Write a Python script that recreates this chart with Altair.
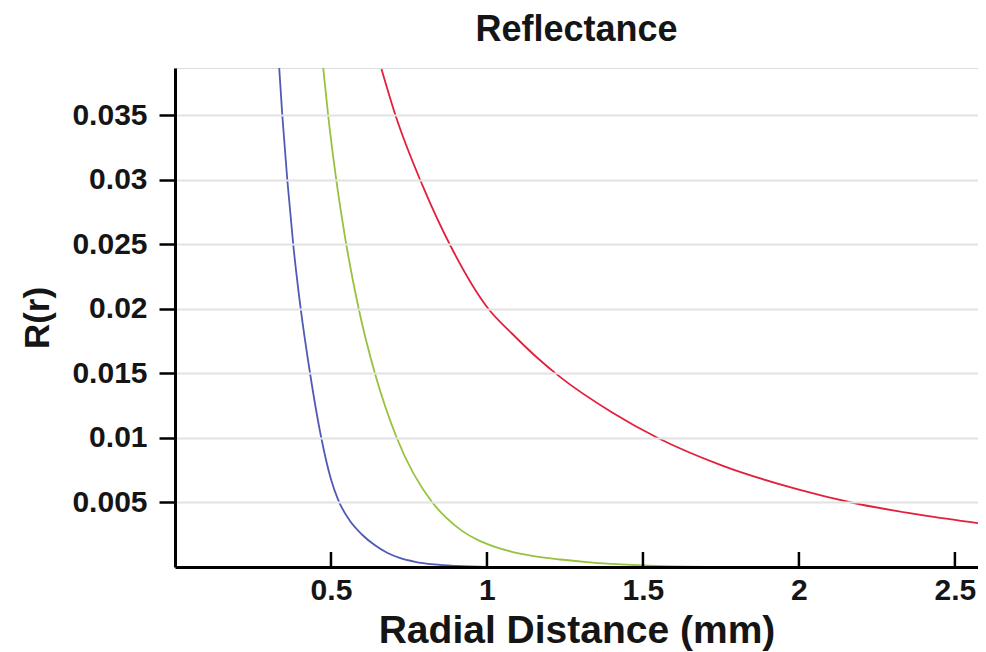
import altair as alt
import pandas as pd

# ---- data ----
series_names = ["blue", "green", "red"]
series_colors = ["#4f5bb5", "#97c23e", "#e3203c"]
series_widths = [1.8, 1.8, 2.6]

blue_x = [0.334, 0.344, 0.360, 0.379, 0.403, 0.433, 0.469, 0.50, 0.523, 0.56, 0.60, 0.64, 0.68, 0.72, 0.77, 0.83, 0.90, 1.0]
blue_y = [0.0387, 0.035, 0.030, 0.025, 0.020, 0.015, 0.010, 0.0068, 0.0052, 0.0036, 0.0025, 0.0017, 0.0011, 0.0007, 0.0004, 0.0002, 0.00008, 0.0]

green_x = [0.475, 0.491, 0.517, 0.549, 0.589, 0.641, 0.711, 0.825, 0.87, 0.92, 0.97, 1.021, 1.08, 1.15, 1.236, 1.32, 1.40, 1.50, 1.60, 1.70]
green_y = [0.0387, 0.035, 0.030, 0.025, 0.020, 0.015, 0.010, 0.005, 0.0038, 0.0028, 0.0021, 0.0016, 0.00118, 0.00085, 0.00058, 0.00038, 0.00024, 0.00012, 0.00005, 0.00001]

red_x = [0.662, 0.707, 0.793, 0.883, 1.005, 1.08, 1.162, 1.236, 1.40, 1.548, 1.75, 2.0, 2.168, 2.4, 2.574]
red_y = [0.0386, 0.035, 0.0296, 0.0249, 0.020, 0.0181, 0.0162, 0.0147, 0.0120, 0.010, 0.0079, 0.0060, 0.0050, 0.0040, 0.0034]

x_ticks = [0.5, 1, 1.5, 2, 2.5]
y_ticks = [0.005, 0.01, 0.015, 0.02, 0.025, 0.03, 0.035]

rows = []
for name, xs, ys in [("blue", blue_x, blue_y), ("green", green_x, green_y), ("red", red_x, red_y)]:
    for i, (xv, yv) in enumerate(zip(xs, ys)):
        rows.append({"series": name, "r": xv, "R": yv, "i": i})
df = pd.DataFrame(rows)
tick_df = pd.DataFrame({"r": x_ticks})

FONT = "Liberation Sans"
INK = "#151515"
W, H = 803, 499

x_scale = alt.Scale(domain=[0, 2.574], nice=False, zero=False)
y_scale = alt.Scale(domain=[0, 0.03868], nice=False, zero=False)

x_axis = alt.Axis(
    values=x_ticks, format="~g", title="Radial Distance (mm)", grid=False,
    ticks=False, labelPadding=8, labelFontSize=30, labelFont=FONT,
    labelFontWeight="bold", labelColor=INK, domainColor="#000000",
    domainWidth=3, titleFont=FONT, titleFontSize=39, titleFontWeight="bold",
    titleColor=INK, titleY=75, titleBaseline="alphabetic", zindex=1)

y_axis = alt.Axis(
    values=y_ticks, format="~g", title="R(r)", grid=True, gridColor="#e2e2e2",
    gridWidth=2, tickSize=16, tickWidth=2.5, tickColor="#000000",
    labelPadding=12, labelFontSize=30, labelFont=FONT, labelFontWeight="bold",
    labelColor=INK, domainColor="#000000", domainWidth=3,
    titleFont=FONT, titleFontSize=35, titleFontWeight="bold", titleColor=INK,
    titleX=-127, titleY=249.5, titleAngle=270, titleAlign="center",
    titleBaseline="alphabetic", zindex=1)

lines = alt.Chart(df).mark_line(clip=True, interpolate="monotone").encode(
    x=alt.X("r:Q", scale=x_scale, axis=x_axis),
    y=alt.Y("R:Q", scale=y_scale, axis=y_axis),
    color=alt.Color("series:N", scale=alt.Scale(domain=series_names, range=series_colors), legend=None),
    strokeWidth=alt.StrokeWidth("series:N", scale=alt.Scale(domain=series_names, range=series_widths), legend=None),
    order="i:Q",
)

ticks = alt.Chart(tick_df).mark_rule(color="#000000", strokeWidth=2.5).encode(
    x=alt.X("r:Q", scale=x_scale, axis=x_axis),
    y=alt.value(H),
    y2=alt.value(H - 15),
)

chart = alt.layer(lines, ticks).properties(
    width=W, height=H,
    title=alt.Title("Reflectance", font=FONT, fontSize=36, fontWeight="bold",
                    color=INK, anchor="middle", frame="group", offset=19),
    autosize=alt.AutoSizeParams(type="none"),
    padding={"left": 167, "top": 60, "right": 0, "bottom": 84},
).configure_view(stroke="#e6e6e6", strokeWidth=2).configure(background="white")

chart.save("out.html", embed_options={"renderer": "svg", "actions": False})
